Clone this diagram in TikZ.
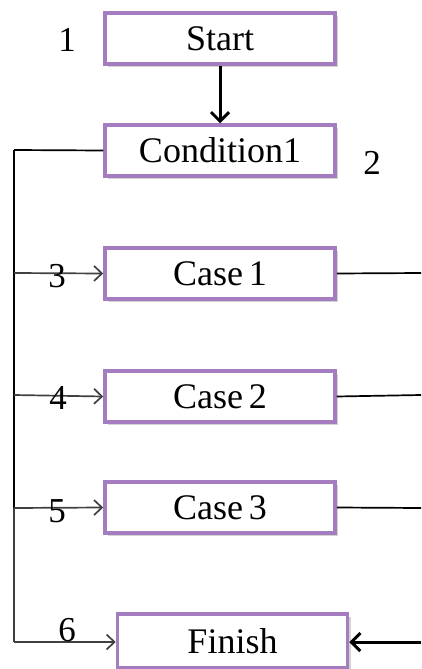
\documentclass[tikz,border=0pt]{standalone}
\usepackage{fontspec}
\setmainfont{Liberation Serif}
\usetikzlibrary{shadows,arrows.meta}
\definecolor{boxpurple}{HTML}{A47DC0}
\definecolor{branchgray}{HTML}{404040}
\tikzset{
  box/.style={draw=boxpurple, line width=3.5pt, fill=white, minimum width=230pt, minimum height=51pt,
    inner sep=0pt, font=\fontsize{36}{40}\selectfont,
    drop shadow={shadow xshift=3pt, shadow yshift=-3pt, opacity=0.35}},
  num/.style={font=\fontsize{35}{40}\selectfont, inner sep=0pt},
  branch/.style={draw=branchgray, line width=1.7pt, -{Straight Barb[length=8pt,width=15pt,line width=1.7pt]}},
  plain/.style={draw=black, line width=1.7pt},
  bigarrow/.style={draw=black, line width=3pt, -{Straight Barb[length=9pt,width=18pt,line width=3pt]}}
}
\begin{document}
\begin{tikzpicture}[x=1pt,y=-1pt]
\useasboundingbox (0,0) rectangle (421,669);
\node[box] (start) at (220,38.5) {Start};
\node[box] (cond) at (220,150.5) {Condition1};
\node[box] (case1) at (220,273.5) {Case\,1};
\node[box] (case2) at (220,396.5) {Case\,2};
\node[box] (case3) at (220,507.5) {Case\,3};
\node[box, minimum height=54pt] (finish) at (232.5,641) {Finish};
\node[num] (n1) at (67,40) {1};
\node[num] (n2) at (372,163) {2};
\coordinate (top) at (14,150);
\coordinate (b1) at (14,273);
\coordinate (b2) at (14,395);
\coordinate (b3) at (14,508);
\coordinate (b4) at (14,642);
\coordinate (r1) at (421,273);
\coordinate (r2) at (421,395);
\coordinate (r3) at (421,508);
\coordinate (r4) at (421,642);
\draw[bigarrow] (start.south) -- (cond.north);
\draw[plain] (cond.west) -- (top);
\draw[draw=black, line width=2.6pt] (top) -- (b3);
\draw[draw=branchgray, line width=2.4pt] (b3) -- (b4);
\draw[branch] (b1) -- (case1.west);
\draw[branch] (b2) -- (case2.west);
\draw[branch] (b3) -- (case3.west);
\draw[branch] (b4) -- (b4 -| finish.west);
\draw[plain] (case1.east) -- (r1);
\draw[plain] (case2.east) -- (r2);
\draw[plain] (case3.east) -- (r3);
\draw[bigarrow] (r4) -- (finish.east |- r4);
\node[num] (n3) at (57,276) {3};
\node[num] (n4) at (58,398) {4};
\node[num] (n5) at (57,511) {5};
\node[num] (n6) at (67,630) {6};
\end{tikzpicture}
\end{document}
